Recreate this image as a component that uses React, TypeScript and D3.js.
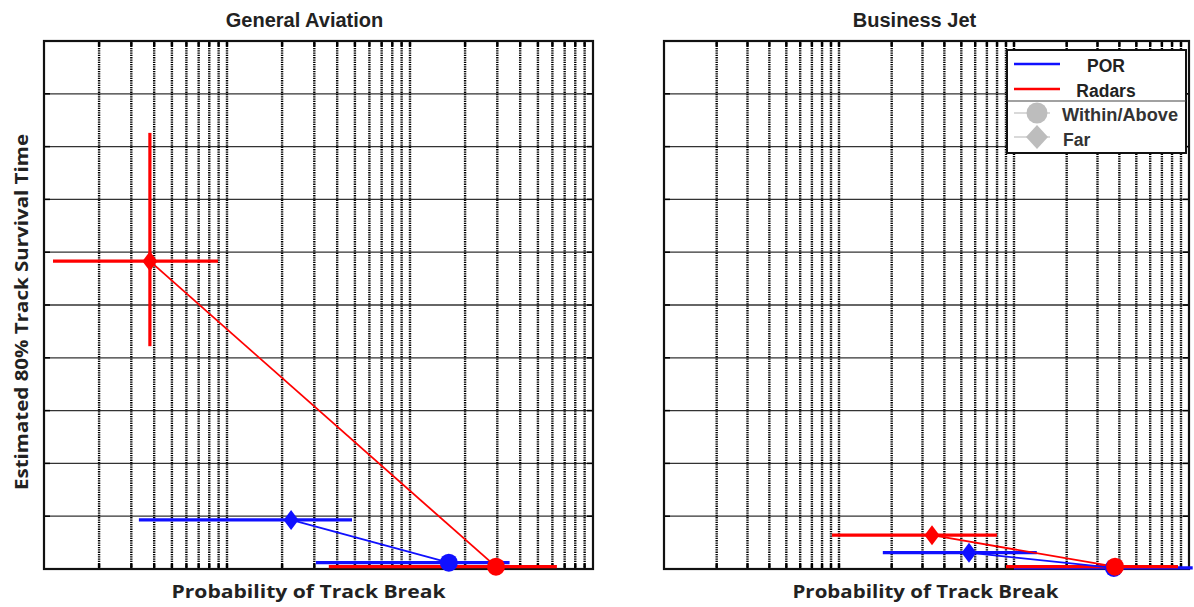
import React from "react";
import * as d3 from "d3";

// ---------- DATA ----------
const panelTitles = ["General Aviation", "Business Jet"];
const xLabel = "Probability of Track Break";
const yLabel = "Estimated 80% Track Survival Time";
const legendSeries = ["POR", "Radars"];
const legendConditions = ["Within/Above", "Far"];

// General Aviation: [Far, Within/Above]
const gaPOR = [
  { cond: "Far", x: 0.0224, y: 0.93, xLo: 0.0033, xHi: 0.0482, yLo: 0.93, yHi: 0.93 },
  { cond: "Within/Above", x: 0.163, y: 0.12, xLo: 0.0306, xHi: 0.35, yLo: 0.12, yHi: 0.12 },
];
const gaRadars = [
  { cond: "Far", x: 0.00379, y: 5.83, xLo: 0.00112, xHi: 0.00893, yLo: 4.22, yHi: 8.26 },
  { cond: "Within/Above", x: 0.295, y: 0.044, xLo: 0.036, xHi: 0.635, yLo: 0.044, yHi: 0.044 },
];
// Business Jet
const bjPOR = [
  { cond: "Far", x: 0.0553, y: 0.31, xLo: 0.0178, xHi: 0.135, yLo: 0.31, yHi: 0.31 },
  { cond: "Within/Above", x: 0.372, y: 0.02, xLo: 0.1, xHi: 1.05, yLo: 0.02, yHi: 0.02 },
];
const bjRadars = [
  { cond: "Far", x: 0.034, y: 0.64, xLo: 0.00912, xHi: 0.08, yLo: 0.64, yHi: 0.64 },
  { cond: "Within/Above", x: 0.378, y: 0.044, xLo: 0.09, xHi: 0.865, yLo: 0.044, yHi: 0.044 },
];

const xDomain = [1e-3, 1];
const yDomain = [0, 10];
const yTicks = [0, 1, 2, 3, 4, 5, 6, 7, 8, 9, 10];

const BLUE = "#1010ff";
const RED = "#ff0000";

type Pt = { cond: string; x: number; y: number; xLo: number; xHi: number; yLo: number; yHi: number };

function Marker({ p, color }: { p: { cx: number; cy: number; cond: string }; color: string }) {
  if (p.cond === "Far") {
    const w = 7.5, h = 10;
    return (
      <path
        d={`M${p.cx},${p.cy - h} L${p.cx + w},${p.cy} L${p.cx},${p.cy + h} L${p.cx - w},${p.cy} Z`}
        fill={color}
      />
    );
  }
  return <circle cx={p.cx} cy={p.cy} r={9} fill={color} />;
}

function Panel({
  x0, x1, title, por, radars, titleDx = 0, labelDx = 0, labelLen = 272,
}: { x0: number; x1: number; title: string; por: Pt[]; radars: Pt[]; titleDx?: number; labelDx?: number; labelLen?: number }) {
  const top = 41, bottom = 569;
  const xs = d3.scaleLog().domain(xDomain).range([x0, x1]);
  const ys = d3.scaleLinear().domain(yDomain).range([bottom, top]);
  const xTicks = xs.ticks().filter((t) => t > xDomain[0] * 1.0001 && t < xDomain[1] * 0.9999);
  const series = [
    { data: por, color: BLUE },
    { data: radars, color: RED },
  ];
  const line = d3.line<Pt>().x((d) => xs(d.x)).y((d) => ys(d.y));
  const cx = (x0 + x1) / 2;
  return (
    <g>
      <text x={cx + titleDx} y={27} textAnchor="middle" fontFamily="Liberation Sans, Arial, sans-serif" fontWeight="bold" fontSize={20} fill="#222">
        {title}
      </text>
      <rect x={x0} y={top} width={x1 - x0} height={bottom - top} fill="#fff" />
      {yTicks.slice(1, -1).map((t) => (
        <line key={"h" + t} x1={x0} x2={x1} y1={ys(t)} y2={ys(t)} stroke="#333" strokeWidth={1.3} />
      ))}
      {xTicks.map((t, i) => (
        <line key={"v" + i} x1={xs(t)} x2={xs(t)} y1={top} y2={bottom} stroke="#000" strokeWidth={2.4} strokeDasharray="1.3,1" />
      ))}
      {yTicks.map((t) => (
        <g key={"yt" + t}>
          <line x1={x0} x2={x0 + 6} y1={ys(t)} y2={ys(t)} stroke="#000" strokeWidth={1.5} />
          <line x1={x1 - 6} x2={x1} y1={ys(t)} y2={ys(t)} stroke="#000" strokeWidth={1.5} />
        </g>
      ))}
      {xTicks.map((t, i) => (
        <g key={"xt" + i}>
          <line x1={xs(t)} x2={xs(t)} y1={top} y2={top + 5} stroke="#000" strokeWidth={2.4} />
          <line x1={xs(t)} x2={xs(t)} y1={bottom - 5} y2={bottom} stroke="#000" strokeWidth={2.4} />
        </g>
      ))}
      <rect x={x0} y={top} width={x1 - x0} height={bottom - top} fill="none" stroke="#111" strokeWidth={2.2} />
      {/* error bars */}
      {series.map((s, si) =>
        s.data.map((d, i) => (
          <g key={"eb" + si + i}>
            <line x1={xs(d.xLo)} x2={xs(d.xHi)} y1={ys(d.y)} y2={ys(d.y)} stroke={s.color} strokeWidth={3.2} />
            {d.yHi !== d.yLo && (
              <line x1={xs(d.x)} x2={xs(d.x)} y1={ys(d.yLo)} y2={ys(d.yHi)} stroke={s.color} strokeWidth={3.2} />
            )}
          </g>
        ))
      )}
      {/* connecting lines */}
      {series.map((s, si) => (
        <path key={"ln" + si} d={line(s.data) || ""} fill="none" stroke={s.color} strokeWidth={1.8} />
      ))}
      {/* markers */}
      {series.map((s, si) =>
        s.data.map((d, i) => (
          <Marker key={"mk" + si + i} p={{ cx: xs(d.x), cy: ys(d.y), cond: d.cond }} color={s.color} />
        ))
      )}
      <text x={cx + labelDx} y={598} textAnchor="middle" fontFamily="Open Sans, sans-serif" fontWeight="bold" fontSize={18} fill="#222" textLength={labelLen} lengthAdjust="spacingAndGlyphs">
        {xLabel}
      </text>
    </g>
  );
}

function Legend() {
  const lx = 1007, ly = 50, lw = 179, lh = 103;
  const font = "Liberation Sans, Arial, sans-serif";
  return (
    <g>
      <rect x={lx} y={ly} width={lw} height={lh} fill="#fff" stroke="#111" strokeWidth={2} />
      <line x1={lx} x2={lx + lw} y1={101} y2={101} stroke="#444" strokeWidth={1.2} />
      <line x1={1014} x2={1060} y1={64} y2={64} stroke={BLUE} strokeWidth={2.5} />
      <line x1={1014} x2={1060} y1={89} y2={89} stroke={RED} strokeWidth={2.5} />
      <text x={1106} y={72} textAnchor="middle" fontFamily={font} fontWeight="bold" fontSize={17.5} fill="#222">{legendSeries[0]}</text>
      <text x={1106} y={97} textAnchor="middle" fontFamily={font} fontWeight="bold" fontSize={17.5} fill="#222">{legendSeries[1]}</text>
      <line x1={1014} x2={1050} y1={113} y2={113} stroke="#ccc" strokeWidth={1.5} />
      <circle cx={1037} cy={113} r={10.5} fill="#bdbdbd" />
      <line x1={1014} x2={1050} y1={137} y2={137} stroke="#ccc" strokeWidth={1.5} />
      <path d="M1037,125 L1048,137 L1037,149 L1026,137 Z" fill="#bdbdbd" />
      <text x={1062} y={121} fontFamily={font} fontWeight="bold" fontSize={17.5} fill="#333" textLength={116} lengthAdjust="spacingAndGlyphs">{legendConditions[0]}</text>
      <text x={1063} y={146} fontFamily={font} fontWeight="bold" fontSize={17.5} fill="#333">{legendConditions[1]}</text>
    </g>
  );
}

export default function App() {
  return (
    <svg width={1194} height={607} style={{ position: "absolute", left: 0, top: 0, background: "#fff" }}>
      <rect width={1194} height={607} fill="#fff" />
      <Panel x0={44} x1={593} title={panelTitles[0]} por={gaPOR} radars={gaRadars} titleDx={-14} labelDx={-10} labelLen={274} />
      <Panel x0={664} x1={1189} title={panelTitles[1]} por={bjPOR} radars={bjRadars} titleDx={-12} labelDx={-1} labelLen={266} />
      <Legend />
      <text
        transform="translate(28,312) rotate(-90)"
        textAnchor="middle"
        fontFamily="Open Sans, sans-serif"
        fontWeight="bold"
        fontSize={17}
        fill="#222"
        textLength={356}
        lengthAdjust="spacingAndGlyphs"
      >
        {yLabel}
      </text>
    </svg>
  );
}
